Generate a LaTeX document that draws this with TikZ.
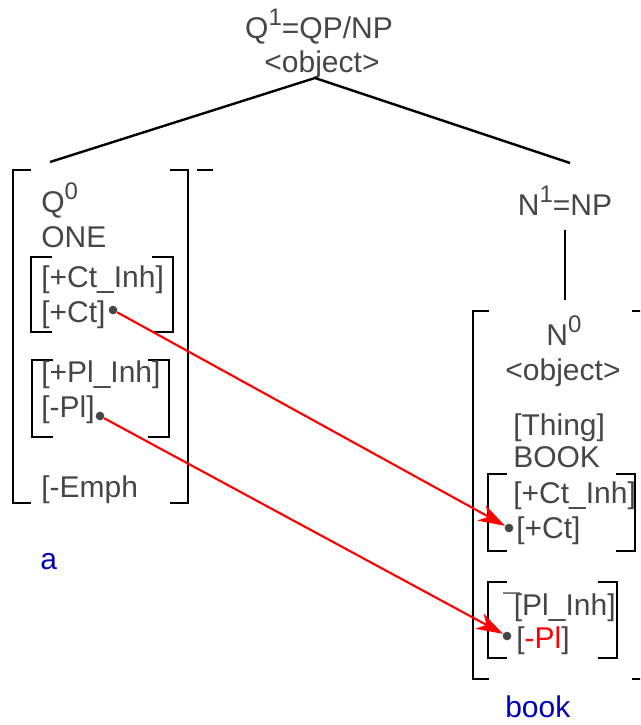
\documentclass[tikz,border=0pt]{standalone}
\usepackage{fontspec}
\setmainfont{Liberation Sans}
\usetikzlibrary{arrows.meta}

\definecolor{txtgray}{HTML}{464646}
\definecolor{glossblue}{HTML}{0000BB}

% raised index on a category label
\newcommand{\barlevel}[1]{\raisebox{0.42em}{\fontsize{18}{18}\selectfont #1}}
% feature bracket: x left, y top, x right, y bottom, tick length
\newcommand{\featbox}[5]{%
  \draw[brack] (#1,#2) ++(#5,0) -- (#1,#2) -- (#1,#4) -- ++(#5,0);
  \draw[brack] (#3,#2) ++(-#5,0) -- (#3,#2) -- (#3,#4) -- ++(-#5,0);}

\tikzset{
  feat/.style={anchor=base west, inner sep=0pt, text=txtgray, font=\fontsize{22.5}{26}\selectfont},
  gloss/.style={feat, text=glossblue},
  brack/.style={line width=2.1pt, black},
  branch/.style={line width=1.8pt, black},
  featdot/.style={circle, fill=txtgray, inner sep=0pt, minimum size=6.5pt},
  link/.style={red, line width=1.6pt, -{Stealth[length=20pt, width=13pt, inset=6pt]}}
}

\begin{document}
\begin{tikzpicture}[x=0.75pt, y=-0.75pt]
  \useasboundingbox (0,0) rectangle (640,725);
  \clip (0,0) rectangle (640,725);

  % Top node
  \node[feat, anchor=base] (qone) at (319,38) {Q\barlevel{1}=QP/NP};
  \node[feat, anchor=base] (qoneobj) at (322,72) {<object>};
  \coordinate (root) at (315,78);
  \coordinate (qleft) at (50,162);
  \coordinate (nright) at (570,163);
  \draw[branch] (qleft) -- (root) -- (nright);

  % N^1 and its stem
  \node[feat, anchor=base] (none) at (565,215) {N\barlevel{1}=NP};
  \coordinate (stemtop) at (565,230);
  \coordinate (stembot) at (565,300);
  \draw[branch] (stemtop) -- (stembot);

  % Quantifier (left) matrix
  \featbox{13}{170}{188}{503}{18}
  \draw[brack] (197,170) -- (213,170);
  \node[feat] (qzero) at (41,212) {Q\barlevel{0}};
  \node[feat] (one) at (41,247) {ONE};
  \featbox{31}{257}{173}{332}{21}
  \node[feat] (ctinhq) at (41,287) {[+Ct\_Inh]};
  \node[feat] (ctq) at (41,322) {[+Ct]};
  \featbox{32}{360}{169}{437}{21}
  \node[feat] (plinhq) at (41,382) {[+Pl\_Inh]};
  \node[feat] (plq) at (41,417) {[-Pl]};
  \node[feat] (emph) at (41,497) {[-Emph};
  \node[gloss] (glossa) at (40,569) {a};

  % Noun (right) matrix
  \featbox{473}{311}{648}{679}{16}
  \node[feat, anchor=base] (nzero) at (564,345) {N\barlevel{0}};
  \node[feat, anchor=base] (nzeroobj) at (563,380) {<object>};
  \node[feat] (thing) at (513,435) {[Thing]};
  \node[feat] (book) at (513,467) {BOOK};
  \featbox{488}{474}{635}{551}{19}
  \node[feat] (ctinhn) at (513,503) {[+Ct\_Inh]};
  \node[feat] (ctn) at (516,538) {[+Ct]};
  \featbox{488}{582}{617}{658}{19}
  \node[feat] (plinhn) at (503,615) {¯\kern-0.2em[Pl\_Inh]};
  \node[feat] (pln) at (516,648) {[\textcolor{red}{-Pl}]};
  \node[gloss] (glossbook) at (505,717) {book};

  % Agreement dots and links
  \node[featdot] (ctqdot) at (113,310) {};
  \node[featdot] (plqdot) at (100,416) {};
  \node[featdot] (ctndot) at (509,528) {};
  \node[featdot] (plndot) at (507,636) {};
  \draw[link] (ctqdot) -- (ctndot);
  \draw[link] (plqdot) -- (plndot);
\end{tikzpicture}
\end{document}
